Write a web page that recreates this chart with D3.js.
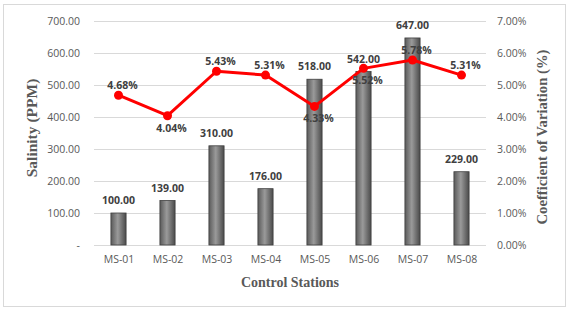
<!DOCTYPE html>
<html>
<head>
<meta charset="utf-8">
<script src="https://cdn.jsdelivr.net/npm/d3@7"></script>
<style>
  body { margin: 0; background: #fff; }
  svg { display: block; }
</style>
</head>
<body>
<script>
const stations = ['MS-01', 'MS-02', 'MS-03', 'MS-04', 'MS-05', 'MS-06', 'MS-07', 'MS-08'];
const salinity = [100, 139, 310, 176, 518, 542, 647, 229];
const cv = [4.68, 4.04, 5.43, 5.31, 4.33, 5.52, 5.78, 5.31];
// where each cv label sits relative to its point
const cvLabelPos = ['above', 'below', 'above', 'above', 'below', 'below', 'above', 'above'];
const leftTicks = [0, 100, 200, 300, 400, 500, 600, 700];
const rightTicks = [0, 1, 2, 3, 4, 5, 6, 7];

const width = 572, height = 312;
const margin = { top: 21, right: 86, bottom: 67, left: 94 };

const svg = d3.select('body').append('svg')
  .attr('width', width)
  .attr('height', height);

// outer frame
svg.append('rect')
  .attr('x', 3.5).attr('y', 4.5)
  .attr('width', 562).attr('height', 302)
  .attr('fill', '#fff')
  .attr('stroke', '#d9d9d9');

const x = d3.scaleBand()
  .domain(stations)
  .range([margin.left, width - margin.right])
  .paddingInner(0.67)
  .paddingOuter(0.335);

const xc = d3.scalePoint()
  .domain(stations)
  .range([margin.left, width - margin.right])
  .padding(0.5);

const y = d3.scaleLinear()
  .domain([0, 700])
  .range([height - margin.bottom, margin.top]);

const y2 = d3.scaleLinear()
  .domain([0, 7])
  .range([height - margin.bottom, margin.top]);

const defs = svg.append('defs');
const grad = defs.append('linearGradient')
  .attr('id', 'barGrad')
  .attr('x1', '0%').attr('x2', '100%')
  .attr('y1', '0%').attr('y2', '0%');
grad.append('stop').attr('offset', '0%').attr('stop-color', '#5a5a5a');
grad.append('stop').attr('offset', '45%').attr('stop-color', '#9a9a9a');
grad.append('stop').attr('offset', '100%').attr('stop-color', '#4a4a4a');

// gridlines
svg.append('g')
  .selectAll('line')
  .data(leftTicks)
  .join('line')
  .attr('x1', margin.left).attr('x2', width - margin.right)
  .attr('y1', d => Math.round(y(d)) + 0.5)
  .attr('y2', d => Math.round(y(d)) + 0.5)
  .attr('stroke', '#d9d9d9');

// left axis
const leftAxis = svg.append('g')
  .attr('transform', `translate(${margin.left},0)`)
  .call(d3.axisLeft(y).tickValues(leftTicks).tickSize(0).tickPadding(14)
    .tickFormat(d => d === 0 ? '-' : d3.format('.2f')(d)));
leftAxis.select('.domain').remove();

// right axis
const rightAxis = svg.append('g')
  .attr('transform', `translate(${width - margin.right},0)`)
  .call(d3.axisRight(y2).tickValues(rightTicks).tickSize(0).tickPadding(11)
    .tickFormat(d => d3.format('.2f')(d) + '%'));
rightAxis.select('.domain').remove();

// bottom axis
const bottomAxis = svg.append('g')
  .attr('transform', `translate(0,${height - margin.bottom})`)
  .call(d3.axisBottom(xc).tickSize(0).tickPadding(11));
bottomAxis.select('.domain').remove();

svg.selectAll('.tick text')
  .attr('font-family', 'Open Sans, Liberation Sans, sans-serif')
  .attr('font-size', 10.5)
  .attr('fill', '#595959');

// bars
svg.append('g')
  .selectAll('rect')
  .data(salinity)
  .join('rect')
  .attr('x', (d, i) => x(stations[i]) + 0.5)
  .attr('y', d => y(d))
  .attr('width', x.bandwidth() - 1)
  .attr('height', d => y(0) - y(d))
  .attr('fill', 'url(#barGrad)')
  .attr('stroke', '#3f3f3f')
  .attr('stroke-width', 0.8);

// bar labels
svg.append('g')
  .selectAll('text')
  .data(salinity)
  .join('text')
  .attr('x', (d, i) => xc(stations[i]))
  .attr('y', d => y(d) - 9)
  .attr('text-anchor', 'middle')
  .attr('font-family', 'Open Sans, Liberation Sans, sans-serif')
  .attr('font-size', 10.5)
  .attr('font-weight', 'bold')
  .attr('fill', '#404040')
  .text(d => d3.format('.2f')(d));

// cv line
const line = d3.line()
  .x((d, i) => xc(stations[i]))
  .y(d => y2(d));

svg.append('path')
  .datum(cv)
  .attr('d', line)
  .attr('fill', 'none')
  .attr('stroke', '#ff0000')
  .attr('stroke-width', 3)
  .attr('stroke-linejoin', 'round');

svg.append('g')
  .selectAll('circle')
  .data(cv)
  .join('circle')
  .attr('cx', (d, i) => xc(stations[i]))
  .attr('cy', d => y2(d))
  .attr('r', 4.5)
  .attr('fill', '#ff0000');

svg.append('g')
  .selectAll('text')
  .data(cv)
  .join('text')
  .attr('x', (d, i) => xc(stations[i]) + 4)
  .attr('y', (d, i) => cvLabelPos[i] === 'above' ? y2(d) - 6 : y2(d) + 16)
  .attr('text-anchor', 'middle')
  .attr('font-family', 'Open Sans, Liberation Sans, sans-serif')
  .attr('font-size', 10.5)
  .attr('font-weight', 'bold')
  .attr('fill', '#404040')
  .text(d => d3.format('.2f')(d) + '%');

// axis titles
const titleFont = 'Liberation Serif, DejaVu Serif, serif';

svg.append('text')
  .attr('transform', 'translate(37,128) rotate(-90)')
  .attr('text-anchor', 'middle')
  .attr('font-family', titleFont)
  .attr('font-size', 15.5)
  .attr('font-weight', 'bold')
  .attr('fill', '#595959')
  .text('Salinity (PPM)');

svg.append('text')
  .attr('transform', 'translate(547,137) rotate(-90)')
  .attr('text-anchor', 'middle')
  .attr('font-family', titleFont)
  .attr('font-size', 14.7)
  .attr('font-weight', 'bold')
  .attr('fill', '#595959')
  .text('Coefficient of Variation (%)');

svg.append('text')
  .attr('x', 290)
  .attr('y', 287)
  .attr('text-anchor', 'middle')
  .attr('font-family', titleFont)
  .attr('font-size', 14)
  .attr('font-weight', 'bold')
  .attr('fill', '#595959')
  .text('Control Stations');
</script>
</body>
</html>
